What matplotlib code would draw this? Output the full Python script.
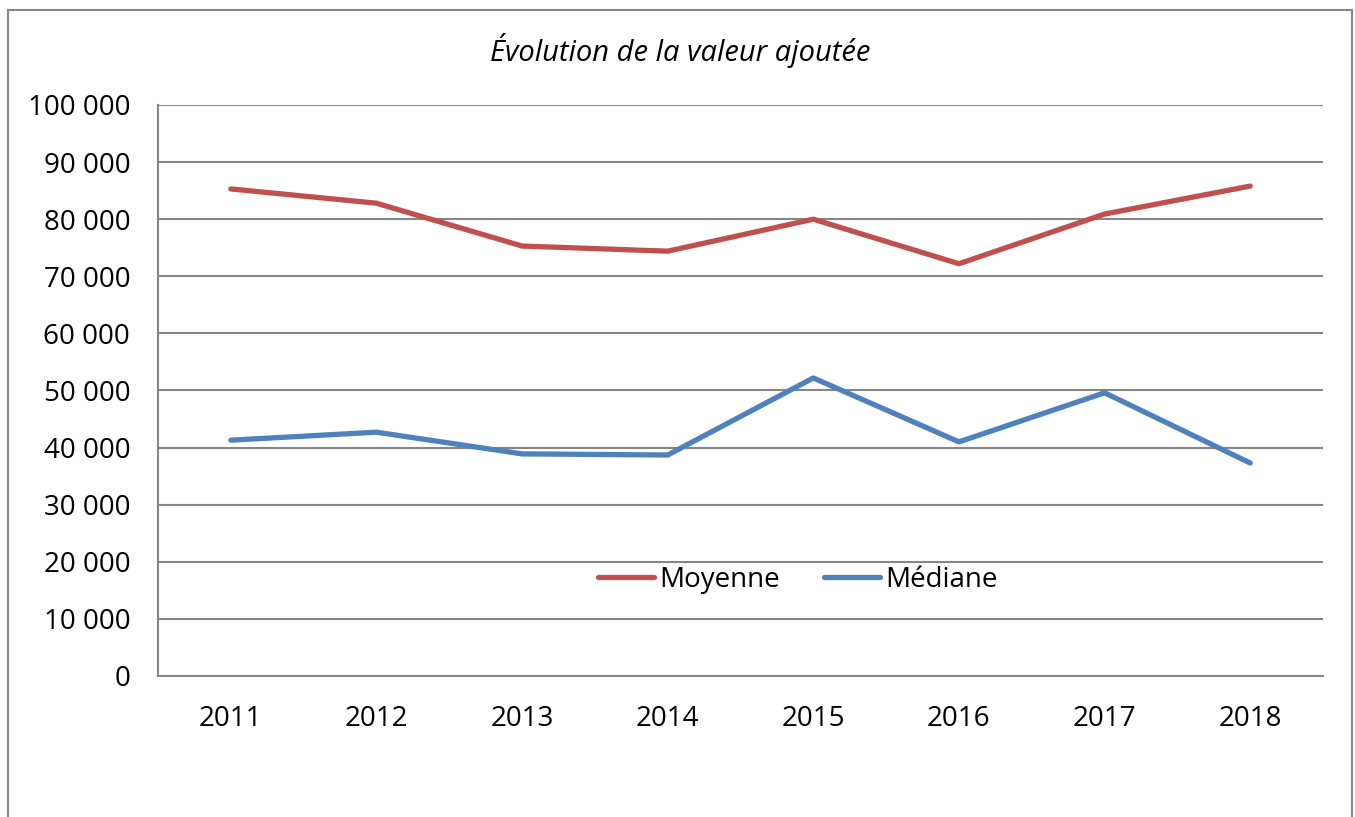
import matplotlib
matplotlib.use("Agg")
import matplotlib.pyplot as plt
from matplotlib.patches import Rectangle
from matplotlib.ticker import FuncFormatter

years = ["2011", "2012", "2013", "2014", "2015", "2016", "2017", "2018"]
moyenne = [85300, 82800, 75300, 74400, 80000, 72200, 80900, 85800]
mediane = [41300, 42700, 38900, 38700, 52200, 41000, 49600, 37300]
title = "Évolution de la valeur ajoutée"

plt.rcParams['font.family'] = ['Open Sans', 'DejaVu Sans']

fig = plt.figure(figsize=(13.55, 8.17), dpi=100)
fig.patches.append(Rectangle((8/1355, -0.05), (1352-8)/1355, 1.05 - 10/817,
                             transform=fig.transFigure, fill=False,
                             edgecolor="#868686", linewidth=1.5))
ax = fig.add_axes([158/1355, 1-676/817, (1323-158)/1355, (676-105)/817])

x = range(len(years))
ax.plot(x, moyenne, color="#C0504D", linewidth=3.8, label="Moyenne", solid_capstyle="round")
ax.plot(x, mediane, color="#4F81BD", linewidth=3.8, label="Médiane", solid_capstyle="round")

ax.set_xlim(-0.5, len(years) - 0.5)
ax.set_ylim(0, 100000)
ax.set_yticks(range(0, 100001, 10000))
ax.yaxis.set_major_formatter(FuncFormatter(lambda v, p: f"{int(v):,}".replace(",", " ")))
ax.set_xticks(list(x))
ax.set_xticklabels(years)
ax.grid(axis="y", color="#868686", linewidth=1.5)
ax.set_axisbelow(True)
for s in ["top", "right"]:
    ax.spines[s].set_visible(False)
for s in ["left", "bottom"]:
    ax.spines[s].set_color("#868686")
    ax.spines[s].set_linewidth(1.5)
ax.tick_params(axis="both", length=0, labelsize=20, colors="black")
ax.tick_params(axis="y", pad=20)
ax.tick_params(axis="x", pad=21)

fig.text(680/1355, 1-50/817, title, ha="center", va="center", fontsize=21, style="italic")

leg = ax.legend(loc="center", bbox_to_anchor=((798-158)/(1323-158), (676-580)/(676-105)),
                ncol=2, frameon=False, fontsize=20, handlelength=2.0, handletextpad=0.2,
                columnspacing=1.6)

fig.savefig("out.png", dpi=100)
